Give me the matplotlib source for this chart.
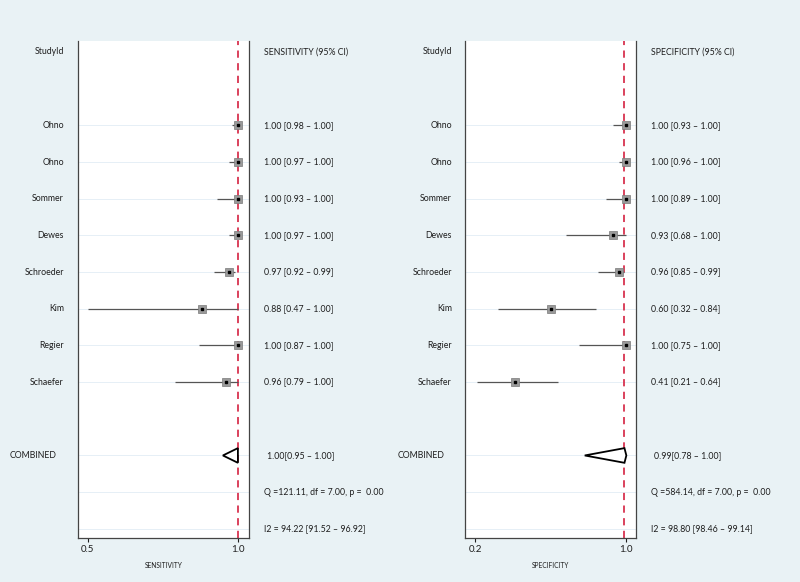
"""Paired forest plot: sensitivity and specificity per study"""

import numpy as np
import matplotlib
matplotlib.use('Agg')
import matplotlib.pyplot as plt
from matplotlib.transforms import blended_transform_factory

# study data
studies = ['Ohno', 'Ohno', 'Sommer', 'Dewes', 'Schroeder', 'Kim', 'Regier', 'Schaefer']
sens = [1.00, 1.00, 1.00, 1.00, 0.97, 0.88, 1.00, 0.96]
sens_lo = [0.98, 0.97, 0.93, 0.97, 0.92, 0.47, 0.87, 0.79]
sens_hi = [1.00, 1.00, 1.00, 1.00, 0.99, 1.00, 1.00, 1.00]
spec = [1.00, 1.00, 1.00, 0.93, 0.96, 0.60, 1.00, 0.41]
spec_lo = [0.93, 0.96, 0.89, 0.68, 0.85, 0.32, 0.75, 0.21]
spec_hi = [1.00, 1.00, 1.00, 1.00, 0.99, 0.84, 1.00, 0.64]

# pooled estimates
sens_comb = [1.00, 0.95, 1.00]
spec_comb = [0.99, 0.78, 1.00]
sens_q = 'Q =121.11, df = 7.00, p =  0.00'
spec_q = 'Q =584.14, df = 7.00, p =  0.00'
sens_i2 = 'I2 = 94.22 [91.52 \u2013 96.92]'
spec_i2 = 'I2 = 98.80 [98.46 \u2013 99.14]'

plt.rcParams['font.family'] = ['Lato', 'DejaVu Sans']
BG = '#e9f2f5'
RED = '#d8334f'
TXT = '#1e1e1e'

fig = plt.figure(figsize=(8, 5.82), dpi=100, facecolor=BG)

rows = np.arange(2, 2 + len(studies))
row_comb, row_q, row_i2 = 11, 12, 13


def panel(left, xlim, xticks, xlabel, header, est, lo, hi, comb, qtxt, i2txt,
          name_x, comb_name_x, txt_x, comb_txt_x, clip_lo):
    ax = fig.add_axes([left, 0.0756, 0.21375, 0.854])
    ax.set_facecolor('white')
    ax.set_xlim(*xlim)
    ax.set_ylim(13.25, -0.3)

    # faint row lines
    for r in list(rows) + [row_comb, row_q, row_i2]:
        ax.axhline(r, color='#e2edf5', lw=0.6, zorder=0)

    ax.axvline(comb[0], color=RED, lw=1.3, ls=(0, (4, 3)), zorder=1)

    lo_c = np.clip(lo, clip_lo, None)
    ax.hlines(rows, lo_c, hi, color='#555555', lw=0.9, zorder=2)
    ax.plot(est, rows, 's', ms=5.8, mfc='#9a9a9a', mec='#7a7a7a', mew=0.5, zorder=3)
    ax.plot(est, rows, 's', ms=1.8, color='black', zorder=4)

    # combined diamond
    c, cl, ch = comb
    h = 0.2
    ax.fill([cl, c, ch, c, cl], [row_comb, row_comb - h, row_comb, row_comb + h, row_comb],
            facecolor='white', edgecolor='black', lw=1.3, zorder=3)

    ax.spines['top'].set_visible(False)
    for s in ['left', 'right', 'bottom']:
        ax.spines[s].set_color('#444444')
        ax.spines[s].set_linewidth(0.9)
    ax.set_yticks([])
    ax.set_xticks(xticks)
    ax.set_xticklabels(['%.1f' % t for t in xticks])
    ax.tick_params(axis='x', labelsize=7, length=3, width=0.8, pad=2, colors=TXT)
    ax.set_xlabel(xlabel, fontsize=4.8, labelpad=6, color=TXT)

    tr = blended_transform_factory(fig.transFigure, ax.transData)
    kw = dict(transform=tr, fontsize=6.3, va='center', color=TXT)
    ax.text(name_x, 0, 'StudyId', ha='right', **kw)
    ax.text(txt_x, 0, header, ha='left', **kw)
    for r, nm, e, l, hh in zip(rows, studies, est, lo, hi):
        ax.text(name_x, r, nm, ha='right', **kw)
        ax.text(txt_x, r, '%.2f [%.2f \u2013 %.2f]' % (e, l, hh), ha='left', **kw)
    ax.text(comb_name_x, row_comb, 'COMBINED', ha='right', **kw)
    ax.text(comb_txt_x, row_comb, '%.2f[%.2f \u2013 %.2f]' % (c, cl, ch), ha='left', **kw)
    ax.text(txt_x, row_q, qtxt, ha='left', **kw)
    ax.text(txt_x, row_i2, i2txt, ha='left', **kw)
    return ax


panel(0.0975, (0.467, 1.037), [0.5, 1.0], 'SENSITIVITY', 'SENSITIVITY (95% CI)',
      sens, sens_lo, sens_hi, sens_comb, sens_q, sens_i2,
      0.080, 0.071, 0.330, 0.334, 0.5)
panel(0.58125, (0.147, 1.051), [0.2, 1.0], 'SPECIFICITY', 'SPECIFICITY (95% CI)',
      spec, spec_lo, spec_hi, spec_comb, spec_q, spec_i2,
      0.565, 0.555, 0.814, 0.8175, 0.2)

fig.savefig('out.png', dpi=100, facecolor=BG)
